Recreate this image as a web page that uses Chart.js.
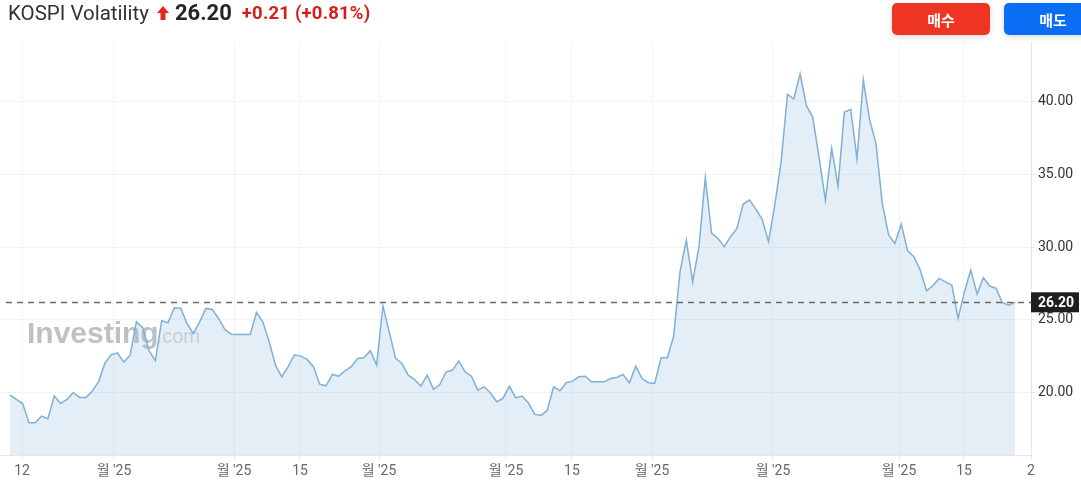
<!DOCTYPE html>
<html>
<head>
<meta charset="utf-8">
<script src="https://cdn.jsdelivr.net/npm/chart.js@4.4.1/dist/chart.umd.min.js"></script>
<style>
  html, body { margin: 0; padding: 0; background: #fff; }
  body { width: 1081px; height: 486px; position: relative; overflow: hidden;
         font-family: Roboto, 'Noto Sans CJK KR', sans-serif; }
  #wrap { position: absolute; left: 0; top: 0; width: 1081px; height: 486px; }
  #head { position: absolute; left: 8px; top: 0; height: 25px; display: flex;
          align-items: center; white-space: nowrap; z-index: 2; }
  .name { font-size: 20.5px; color: #333; }
  .arr { margin: 0 6px 0 8px; }
  .last { font-size: 22px; font-weight: 700; color: #232526; }
  .chg { font-size: 18.5px; font-weight: 700; color: #d91e18; margin-left: 10px; letter-spacing: 0.2px; }
  .btn { position: absolute; top: 3px; height: 32px; width: 98px; border-radius: 5px;
         color: #fff; font-weight: 700; font-size: 15px; z-index: 2;
         font-family: 'Noto Sans CJK KR', sans-serif;
         display: flex; align-items: center; justify-content: center;
         box-shadow: 0 2px 6px rgba(0, 0, 0, 0.15); }
  #buy { left: 892px; background: #ee3524; }
  #sell { left: 1004px; background: #0a6ef5; }
</style>
</head>
<body>
<div id="wrap"><canvas id="chart"></canvas></div>
<div id="head">
  <span class="name">KOSPI Volatility</span>
  <svg class="arr" width="12" height="14" viewBox="0 0 12 14">
    <polygon points="6,0 12,7 8.5,7 8.5,14 3.5,14 3.5,7 0,7" fill="#e0281e"/>
  </svg>
  <span class="last">26.20</span>
  <span class="chg">+0.21 (+0.81%)</span>
</div>
<div class="btn" id="buy">매수</div>
<div class="btn" id="sell">매도</div>

<script>
// daily closes
var vix = [
    19.82, 19.52, 19.24, 17.91, 17.91, 18.37, 18.19, 19.75, 19.24, 19.52,
    20.00, 19.66, 19.66, 20.09, 20.73, 22.00, 22.59, 22.73, 22.09, 22.55,
    24.86, 24.45, 22.87, 22.18, 24.93, 24.79, 25.83, 25.80, 24.75, 24.06,
    24.86, 25.78, 25.71, 25.09, 24.33, 24.01, 23.99, 23.99, 23.99, 25.50,
    24.86, 23.49, 21.88, 21.08, 21.77, 22.59, 22.50, 22.27, 21.77, 20.57,
    20.46, 21.24, 21.12, 21.49, 21.77, 22.34, 22.39, 22.87, 21.88, 25.96,
    24.17, 22.34, 22.00, 21.19, 20.89, 20.44, 21.19, 20.21, 20.55, 21.42,
    21.54, 22.16, 21.42, 21.12, 20.16, 20.39, 19.98, 19.36, 19.59, 20.44,
    19.63, 19.75, 19.29, 18.51, 18.42, 18.78, 20.39, 20.11, 20.67, 20.78,
    21.08, 21.12, 20.73, 20.73, 20.73, 20.96, 21.03, 21.24, 20.67, 21.81,
    20.96, 20.67, 20.62, 22.39, 22.39, 23.88, 28.30, 30.48, 27.61, 30.02,
    34.79, 30.94, 30.60, 30.02, 30.71, 31.28, 32.96, 33.23, 32.61, 31.90,
    30.37, 32.89, 35.87, 40.50, 40.18, 41.90, 39.72, 38.92, 36.17, 33.23,
    36.79, 34.20, 39.27, 39.47, 36.06, 41.49, 38.74, 37.13, 33.00, 30.83,
    30.25, 31.58, 29.75, 29.33, 28.42, 27.00, 27.34, 27.84, 27.61, 27.39,
    25.09, 26.93, 28.42, 26.77, 27.89, 27.32, 27.16, 26.17, 26.01, 26.20
];

// x tick positions (in bar index units) and their labels
var tickAt = [1.9, 16.45, 35.44, 45.88, 58.38, 78.47, 88.91, 101.57, 120.71, 140.65, 150.93, 161.53];
var tickText = ['12', "월 '25", "월 '25", '15', "월 '25", "월 '25", '15', "월 '25", "월 '25", "월 '25", '15', '2'];

var yTicks = [20, 25, 30, 35, 40];
var lastPrice = 26.20;

var xMin = -1.582, xMax = 161.53;
var yMin = 15.7, yMax = 44.1;

var points = vix.map(function (v, i) { return { x: i, y: v }; });

var fontFam = "Roboto, 'Noto Sans CJK KR', sans-serif";

// watermark, last price line and price tag
var extras = {
    id: 'extras',
    beforeDatasetsDraw: function (chart) {
        var ctx = chart.ctx;
        ctx.save();
        ctx.textBaseline = 'alphabetic';
        ctx.fillStyle = 'rgba(140,140,140,0.55)';
        ctx.font = "bold 30px 'Liberation Sans', Arial, sans-serif";
        ctx.fillText('Investing', 27, 343);
        var w = ctx.measureText('Investing').width;
        ctx.fillStyle = 'rgba(150,150,150,0.4)';
        ctx.font = "20px 'Liberation Sans', Arial, sans-serif";
        ctx.fillText('.com', 25 + w, 343);
        ctx.restore();
    },
    afterDatasetsDraw: function (chart) {
        var ctx = chart.ctx, area = chart.chartArea;
        var y = Math.round(chart.scales.y.getPixelForValue(lastPrice)) + 0.5;
        ctx.save();
        ctx.strokeStyle = '#6a6a6a';
        ctx.lineWidth = 1.5;
        ctx.setLineDash([6, 5]);
        ctx.beginPath();
        ctx.moveTo(area.left + 6, y);
        ctx.lineTo(area.right, y);
        ctx.stroke();
        ctx.restore();
    },
    afterDraw: function (chart) {
        var ctx = chart.ctx, area = chart.chartArea;
        var y = chart.scales.y.getPixelForValue(lastPrice);
        ctx.save();
        ctx.fillStyle = '#1e1e1e';
        ctx.fillRect(area.right, y - 10, 48, 20);
        ctx.fillStyle = '#fff';
        ctx.font = 'bold 14px ' + fontFam;
        ctx.textAlign = 'center';
        ctx.textBaseline = 'middle';
        ctx.fillText(lastPrice.toFixed(2), area.right + 25, y + 1);
        ctx.restore();
    }
};

var ctx = document.getElementById('chart').getContext('2d');
var chart = new Chart(ctx, {
    type: 'line',
    data: {
        datasets: [{
            data: points,
            borderColor: 'rgb(126,176,216)',
            borderWidth: 1.5,
            backgroundColor: 'rgba(150,188,222,0.26)',
            fill: 'start',
            pointRadius: 0,
            tension: 0
        }]
    },
    options: {
        responsive: true,
        maintainAspectRatio: false,
        animation: false,
        layout: { padding: { top: 42, left: 0, right: 0, bottom: 0 } },
        plugins: {
            legend: { display: false },
            tooltip: { enabled: false }
        },
        scales: {
            x: {
                type: 'linear',
                min: xMin,
                max: xMax,
                afterBuildTicks: function (s) {
                    s.ticks = tickAt.map(function (v) { return { value: v }; });
                },
                afterFit: function (s) { s.height = 31; },
                ticks: {
                    autoSkip: false,
                    maxRotation: 0,
                    padding: 3,
                    color: '#666',
                    font: { family: fontFam, size: 14 },
                    callback: function (v, i) { return tickText[i]; }
                },
                grid: { color: '#f2f3f5', tickLength: 5, tickColor: '#e6e8ec' },
                border: { color: '#e3e6ea' }
            },
            y: {
                position: 'right',
                min: yMin,
                max: yMax,
                afterBuildTicks: function (s) {
                    s.ticks = yTicks.map(function (v) { return { value: v }; });
                },
                afterFit: function (s) { s.width = 50; },
                ticks: {
                    padding: 3,
                    color: '#333',
                    font: { family: fontFam, size: 14 },
                    callback: function (v) { return v.toFixed(2); }
                },
                grid: { color: '#f2f3f5', tickLength: 4, tickColor: '#e6e8ec' },
                border: { color: '#e3e6ea' }
            }
        }
    },
    plugins: [extras]
});
</script>
</body>
</html>
